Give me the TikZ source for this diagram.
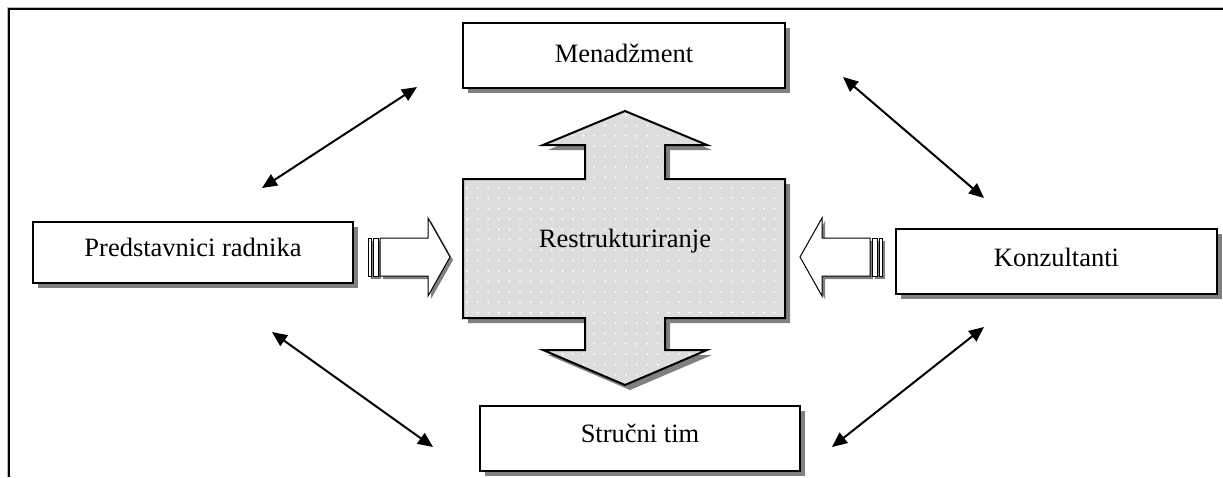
\documentclass[tikz,border=0pt]{standalone}
\usepackage{fontspec}
\setmainfont{Liberation Serif}
\usetikzlibrary{arrows.meta,shadows}
\definecolor{shadowgray}{RGB}{128,128,128}
\definecolor{crossgray}{RGB}{221,221,221}
\tikzset{
  boxnode/.style={draw=black, line width=2pt, fill=white, inner xsep=0pt, inner ysep=0pt,
    font=\fontsize{26.5}{30}\selectfont,
    drop shadow={shadow xshift=5pt, shadow yshift=-5pt, fill=shadowgray, opacity=1}},
  link/.style={line width=2pt, {Triangle[length=15pt,width=13pt]}-{Triangle[length=15pt,width=13pt]}},
  blockarrow/.style={draw=black, line width=1pt, fill=white, line join=miter},
  blockshadow/.style={fill=shadowgray, shift={(3,3)}},
  crossline/.style={draw=black, line width=2pt, line join=miter},
  labeltext/.style={font=\fontsize{26.5}{30}\selectfont, inner sep=0pt}
}
\def\crosspath{(625,111) -- (707,145) -- (665,145) -- (665,179) -- (785,179) -- (785,318) -- (665,318) -- (665,350) -- (707,350) -- (625,385) -- (543,350) -- (585,350) -- (585,318) -- (463,318) -- (463,179) -- (585,179) -- (585,145) -- (543,145) -- cycle}
\begin{document}
\begin{tikzpicture}[x=1pt,y=-1pt]
\useasboundingbox (0,0) rectangle (1223,477);
\fill[white] (0,0) rectangle (1223,477);
% frame
\draw[gray!55, line width=1pt] (7.4,477) -- (7.4,7.4) -- (1223,7.4);
\draw[black, line width=2pt] (9,477) -- (9,9) -- (1223,9);

% boxes
\node[boxnode, minimum width=322pt, text height=39pt, text depth=26pt, anchor=north] (men) at (624,22) {Menadžment};
\node[boxnode, minimum width=320pt, text height=34pt, text depth=27pt, anchor=north] (pred) at (193,221) {Predstavnici radnika};
\node[boxnode, minimum width=321pt, text height=37pt, text depth=28pt, anchor=north] (konz) at (1056.5,228) {Konzultanti};
\node[boxnode, minimum width=320pt, text height=36pt, text depth=29pt, anchor=north] (str) at (640,405) {Stručni tim};

% central cross
\fill[shadowgray, shift={(5,5)}] \crosspath;
\fill[crossgray] \crosspath;
\begin{scope}
  \clip \crosspath;
  \foreach \x in {467,477.6,...,785} {
    \foreach \y in {115,125.4,...,385} {
      \fill[white] (\x,\y) circle (1.1pt);
    }
  }
\end{scope}
\draw[crossline] \crosspath;
\node[labeltext, anchor=base] (restr) at (625,247) {Restrukturiranje};

% left block arrow
\fill[blockshadow] (380,238) -- (428,238) -- (428,218) -- (450,257) -- (428,296) -- (428,276) -- (380,276) -- cycle;
\fill[blockshadow] (368,238) rectangle (378,276);
\draw[blockarrow] (368,238) rectangle (371,276);
\draw[blockarrow] (373,238) rectangle (378,276);
\draw[blockarrow] (380,238) -- (428,238) -- (428,218) -- (450,257) -- (428,296) -- (428,276) -- (380,276) -- cycle;

% right block arrow
\fill[blockshadow] (870,238) -- (822,238) -- (822,218) -- (800,257) -- (822,296) -- (822,276) -- (870,276) -- cycle;
\fill[blockshadow] (872,238) rectangle (882,276);
\draw[blockarrow] (872,238) rectangle (877,276);
\draw[blockarrow] (879,238) rectangle (882,276);
\draw[blockarrow] (870,238) -- (822,238) -- (822,218) -- (800,257) -- (822,296) -- (822,276) -- (870,276) -- cycle;

% double arrows
\coordinate (a1s) at (262,188); \coordinate (a1e) at (417,87);
\coordinate (a2s) at (843,77);  \coordinate (a2e) at (984,198);
\coordinate (a3s) at (272,332); \coordinate (a3e) at (433,447);
\coordinate (a4s) at (984,327); \coordinate (a4e) at (832,447);
\draw[link] (a1s) -- (a1e);
\draw[link] (a2s) -- (a2e);
\draw[link] (a3s) -- (a3e);
\draw[link] (a4s) -- (a4e);
\end{tikzpicture}
\end{document}
